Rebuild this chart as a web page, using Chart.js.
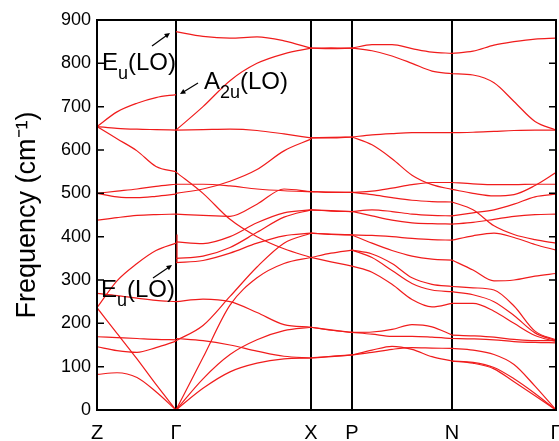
<!DOCTYPE html>
<html>
<head>
<meta charset="utf-8">
<script src="https://cdn.jsdelivr.net/npm/chart.js@4.4.1/dist/chart.umd.min.js"></script>
<style>
  body { margin: 0; background: #fff; }
  canvas { display: block; }
</style>
</head>
<body>
<canvas id="phononChart" width="559" height="441"></canvas>
<script>
// high-symmetry points along the path (path distance)
const kLabels = ['Z', 'Γ', 'X', 'P', 'N', 'Γ'];
const kPos = [0, 79, 214, 255, 355, 459];
const freqTicks = [0, 100, 200, 300, 400, 500, 600, 700, 800, 900];

// Z - Γ
const zgX = [0, 20, 40, 59, 79];
const zgBands = [
    [654, 688, 708, 721, 728],
    [654, 650, 648, 647, 646],
    [654, 626, 598, 562, 550],
    [500, 505, 510, 516, 521],
    [500, 492, 490, 493, 498],
    [438, 444, 449, 451, 452],
    [269, 264, 258, 253, 250],
    [236, 298, 338, 368, 385],
    [236, 177, 118, 59, 0],
    [169, 167, 165, 163, 162],
    [146, 137, 133, 144, 159],
    [82, 86, 75, 42, 0]
];

// Γ - X
const gxX = [79, 106, 133, 160, 187, 214];
const gxBands = [
    [873, 862, 858, 861, 852, 835],
    [646, 700, 760, 800, 822, 835],
    [646, 647, 648, 645, 637, 628],
    [500, 510, 528, 555, 598, 625],
    [549, 500, 440, 400, 372, 352],
    [521, 521, 517, 510, 506, 504],
    [452, 449, 447, 475, 510, 504],
    [388, 384, 400, 432, 455, 462],
    [350, 355, 375, 410, 445, 462],
    [340, 345, 362, 385, 402, 408],
    [250, 256, 250, 225, 197, 191],
    [165, 160, 150, 136, 124, 120],
    [160, 195, 262, 330, 385, 408],
    [0, 121, 242, 305, 338, 352],
    [0, 72, 128, 162, 183, 191],
    [0, 50, 88, 108, 118, 120]
];

// X - P
const xpX = [214, 234, 255];
const xpBands = [
    [835, 836, 835],
    [835, 834, 835],
    [628, 629, 630],
    [628, 628, 630],
    [504, 503, 502],
    [504, 502, 502],
    [462, 460, 458],
    [462, 459, 458],
    [408, 406, 404],
    [408, 405, 404],
    [352, 362, 369],
    [352, 342, 332],
    [191, 185, 179],
    [191, 184, 179],
    [120, 124, 127],
    [120, 123, 127]
];

// P - N
const pnX = [255, 275, 295, 315, 335, 355];
const pnBands = [
    [835, 843, 843, 834, 826, 823],
    [835, 829, 817, 800, 782, 776],
    [630, 635, 638, 640, 640, 640],
    [630, 612, 580, 542, 520, 509],
    [502, 505, 512, 520, 525, 525],
    [502, 497, 490, 484, 481, 480],
    [458, 462, 458, 452, 449, 448],
    [458, 448, 438, 432, 430, 429],
    [404, 403, 400, 396, 393, 392],
    [404, 385, 368, 355, 348, 346],
    [369, 360, 338, 305, 290, 285],
    [369, 352, 322, 292, 277, 273],
    [332, 318, 290, 255, 238, 246],
    [179, 180, 186, 197, 192, 173],
    [179, 175, 170, 170, 168, 165],
    [127, 133, 140, 144, 143, 142],
    [127, 138, 147, 140, 123, 113]
];

// N - Γ
const ngX = [355, 376, 397, 417, 438, 459];
const ngBands = [
    [823, 828, 842, 850, 856, 858],
    [776, 773, 755, 712, 666, 646],
    [640, 641, 643, 645, 646, 646],
    [525, 522, 520, 520, 521, 521],
    [509, 500, 494, 497, 518, 548],
    [480, 462, 425, 405, 393, 385],
    [448, 455, 462, 475, 492, 498],
    [429, 433, 440, 447, 451, 452],
    [392, 402, 408, 398, 382, 369],
    [346, 323, 298, 300, 309, 315],
    [285, 282, 277, 240, 182, 162],
    [273, 266, 250, 218, 178, 160],
    [246, 246, 228, 200, 172, 158],
    [173, 171, 168, 163, 160, 160],
    [165, 164, 162, 158, 156, 155],
    [142, 138, 128, 105, 55, 0],
    [113, 108, 95, 65, 33, 0],
    [113, 110, 98, 72, 38, 0]
];

// small LO-TO jump drawn at Γ
const gammaJumpX = [80, 80];
const gammaJump = [405, 340];

const RED = 'rgb(240, 28, 28)';
const FONT = "'Liberation Sans', Arial, sans-serif";

function segmentSets(xs, bands) {
    return bands.map(b => ({
        data: b.map((v, i) => ({ x: xs[i], y: v })),
        borderColor: RED,
        borderWidth: 1.2,
        pointRadius: 0,
        fill: false,
        cubicInterpolationMode: 'monotone'
    }));
}

const datasets = [].concat(
    segmentSets(zgX, zgBands),
    segmentSets(gxX, gxBands),
    segmentSets(xpX, xpBands),
    segmentSets(pnX, pnBands),
    segmentSets(ngX, ngBands),
    segmentSets(gammaJumpX, [gammaJump])
);

function arrow(ctx, x1, y1, x2, y2) {
    const a = Math.atan2(y2 - y1, x2 - x1);
    const h = 6;
    ctx.beginPath();
    ctx.moveTo(x1, y1);
    ctx.lineTo(x2 - Math.cos(a) * 3, y2 - Math.sin(a) * 3);
    ctx.stroke();
    ctx.beginPath();
    ctx.moveTo(x2, y2);
    ctx.lineTo(x2 - h * Math.cos(a - 0.45), y2 - h * Math.sin(a - 0.45));
    ctx.lineTo(x2 - h * Math.cos(a + 0.45), y2 - h * Math.sin(a + 0.45));
    ctx.closePath();
    ctx.fill();
}

function subLabel(ctx, x, base, main, sub, rest) {
    ctx.font = '24px ' + FONT;
    ctx.fillText(main, x, base);
    let w = ctx.measureText(main).width;
    ctx.font = '18px ' + FONT;
    ctx.fillText(sub, x + w, base + 9);
    w += ctx.measureText(sub).width;
    ctx.font = '24px ' + FONT;
    ctx.fillText(rest, x + w, base);
}

const framePlugin = {
    id: 'frame',
    afterDraw(chart) {
        const { ctx, chartArea: a, scales } = chart;
        ctx.save();
        ctx.strokeStyle = '#000';
        ctx.fillStyle = '#000';
        // inward ticks on both sides
        ctx.lineWidth = 1.5;
        freqTicks.forEach(t => {
            const y = scales.y.getPixelForValue(t);
            ctx.beginPath();
            ctx.moveTo(a.left, y); ctx.lineTo(a.left + 7, y);
            ctx.moveTo(a.right, y); ctx.lineTo(a.right - 7, y);
            ctx.stroke();
        });
        // frame
        ctx.lineWidth = 2;
        ctx.strokeRect(a.left, a.top, a.right - a.left, a.bottom - a.top);

        // mode labels
        ctx.textAlign = 'left';
        ctx.textBaseline = 'alphabetic';
        subLabel(ctx, 102, 70, 'E', 'u', '(LO)');
        subLabel(ctx, 204, 89, 'A', '2u', '(LO)');
        subLabel(ctx, 101, 297, 'E', 'u', '(LO)');

        ctx.lineWidth = 1.2;
        arrow(ctx, 152, 46, 170, 33);
        arrow(ctx, 198, 83, 180, 94);
        arrow(ctx, 153, 278, 172, 265);
        ctx.restore();
    }
};

new Chart(document.getElementById('phononChart').getContext('2d'), {
    type: 'line',
    data: { datasets: datasets },
    options: {
        responsive: false,
        animation: false,
        layout: { padding: { top: 20, right: 3, left: 0, bottom: 0 } },
        plugins: { legend: { display: false }, tooltip: { enabled: false } },
        scales: {
            x: {
                type: 'linear',
                min: 0,
                max: 459,
                afterBuildTicks: s => { s.ticks = kPos.map(v => ({ value: v })); },
                afterFit: s => { s.height = 31; s.paddingLeft = 0; s.paddingRight = 0; },
                ticks: {
                    autoSkip: false,
                    maxRotation: 0,
                    padding: 11,
                    color: '#000',
                    font: { family: FONT, size: 20 },
                    callback: (v, i) => kLabels[i]
                },
                grid: { color: '#000', lineWidth: 2, drawTicks: false },
                border: { display: true, color: '#000', width: 2 }
            },
            y: {
                min: 0,
                max: 900,
                afterBuildTicks: s => { s.ticks = freqTicks.map(v => ({ value: v })); },
                afterFit: s => { s.width = 97; s.paddingTop = 0; s.paddingBottom = 0; },
                ticks: {
                    padding: 6,
                    color: '#000',
                    font: { family: FONT, size: 18 }
                },
                grid: { display: false, drawTicks: false },
                border: { display: true, color: '#000', width: 2 },
                title: {
                    display: true,
                    text: 'Frequency (cm⁻¹)',
                    color: '#000',
                    font: { family: FONT, size: 27 },
                    padding: { top: 11, bottom: 0 }
                }
            }
        }
    },
    plugins: [framePlugin]
});
</script>
</body>
</html>
